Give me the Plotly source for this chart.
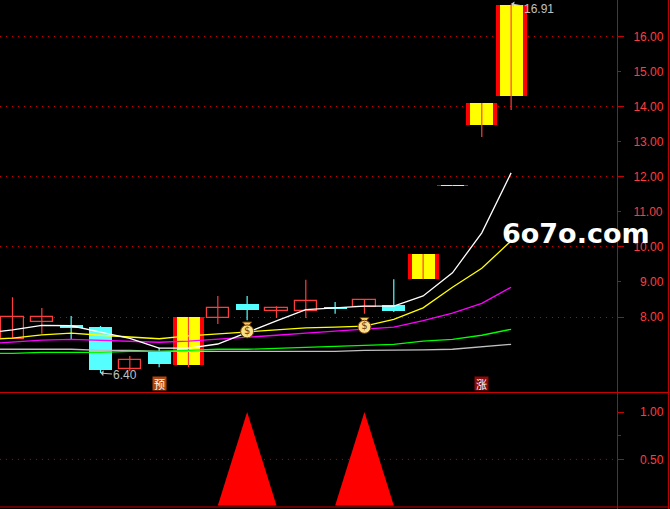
import plotly.graph_objects as go

# ---- data ----
candle_idx = list(range(18))
kinds = ["hollow","hollow","cyan","cyan","hollow","cyan","limit","hollow","cyan","hollow","hollow","cyan","hollow","cyan","limit","limit","limit","limit"]
body_top = [7.99,8.00,7.76,7.71,6.77,7.01,8.00,8.26,8.37,8.26,8.46,8.29,8.48,8.34,9.80,11.76,14.10,16.91]
body_bot = [7.38,7.87,7.69,6.49,6.52,6.66,6.63,7.97,8.20,8.17,8.17,8.23,8.29,8.17,9.08,11.745,13.48,14.30]
high_p = [8.56,8.26,8.03,7.74,6.89,7.12,8.00,8.60,8.60,8.31,9.06,8.43,8.51,9.08,9.80,11.76,14.10,16.91]
low_p = [7.38,7.52,7.37,6.40,6.46,6.57,6.57,7.80,7.91,7.97,7.97,8.09,8.09,8.14,9.08,11.745,13.13,13.90]

line_idx = [-1] + candle_idx
ma_white = [7.54,7.63,7.76,7.75,7.57,7.39,7.11,7.11,7.23,7.57,7.89,8.21,8.27,8.31,8.31,8.60,9.26,10.40,12.11]
ma_yellow = [7.34,7.40,7.49,7.54,7.48,7.44,7.38,7.46,7.52,7.58,7.62,7.69,7.71,7.74,7.93,8.26,8.85,9.39,10.17]
ma_magenta = [7.23,7.28,7.34,7.36,7.34,7.31,7.28,7.31,7.36,7.42,7.48,7.54,7.59,7.64,7.71,7.90,8.11,8.39,8.85]
ma_green = [6.96,6.96,6.99,6.99,6.99,7.02,7.02,7.05,7.08,7.08,7.11,7.14,7.16,7.19,7.22,7.31,7.36,7.48,7.65]
ma_gray = [7.08,7.08,7.08,7.08,7.05,7.05,7.02,7.02,7.02,7.02,7.02,7.02,7.02,7.05,7.05,7.06,7.08,7.14,7.22]

bag_idx = [8, 12]
bag_price = [7.59, 7.72]
bag_neck = [7.80, 7.93]

signal_a_x = [7, 8, 9]
signal_b_x = [11, 12, 13]
signal_vals = [0.015, 1.0, 0.015]

price_ticks = [8, 9, 10, 11, 12, 13, 14, 15, 16]
price_labels = ["\u20078.00", "\u20079.00", "10.00", "11.00", "12.00", "13.00", "14.00", "15.00", "16.00"]
price_grid = [8, 10, 12, 14, 16]
ind_ticks = [0.5, 1.0]
ind_labels = ["\u20070.50", "\u20071.00"]

# ---- styles ----
BG = "#000000"
AX = "#c80000"
LBL = "#ff3c3c"
UP = "#ff3c3c"
CY = "#55ffff"
SPLIT = 116.5 / 509
FONT = "Liberation Sans"

fig = go.Figure()

def pick(values, kind):
    return [v for v, k in zip(values, kinds) if k == kind]

def wicks(kind):
    xs, ys = [], []
    for i, k in enumerate(kinds):
        if k == kind:
            xs += [i, i, None]
            ys += [low_p[i], high_p[i], None]
    return xs, ys

for kind, col in (("hollow", UP), ("cyan", CY), ("limit", UP)):
    xs, ys = wicks(kind)
    fig.add_trace(go.Scatter(x=xs, y=ys, mode="lines", line=dict(color=col, width=1.2), xaxis="x", yaxis="y"))

def bars(kind, width, fill, line_col, line_w):
    xs = [i for i, k in zip(candle_idx, kinds) if k == kind]
    t, b = pick(body_top, kind), pick(body_bot, kind)
    fig.add_trace(go.Bar(x=xs, y=[a - c for a, c in zip(t, b)], base=b, width=width,
                         marker=dict(color=fill, line=dict(color=line_col, width=line_w)),
                         xaxis="x", yaxis="y"))

bars("hollow", 0.77, BG, UP, 1.2)
bars("cyan", 0.78, CY, CY, 0)
bars("limit", 1.056, "#ff0000", "#ff0000", 0)
bars("limit", 0.78, "#ffff00", "#ffff00", 0)

for vals, col in ((ma_gray, "#c0c0c0"), (ma_green, "#00ff00"), (ma_magenta, "#ff00ff"),
                  (ma_yellow, "#ffff00"), (ma_white, "#ffffff")):
    fig.add_trace(go.Scatter(x=line_idx, y=vals, mode="lines", line=dict(color=col, width=1.3),
                             xaxis="x", yaxis="y"))

fig.add_trace(go.Scatter(x=bag_idx, y=bag_neck, mode="markers",
                         marker=dict(symbol="triangle-down", size=8, color="#f2cf63", line=dict(color="#7a3a08", width=1)),
                         xaxis="x", yaxis="y"))
fig.add_trace(go.Scatter(x=bag_idx, y=bag_price, mode="markers+text", text=["$", "$"], textposition="middle center",
                         textfont=dict(family="DejaVu Sans", size=10, color="#7a3a08"),
                         marker=dict(symbol="circle", size=13, color="#f7e08a", line=dict(color="#7a3a08", width=1)),
                         xaxis="x", yaxis="y"))

for sx in (signal_a_x, signal_b_x):
    fig.add_trace(go.Scatter(x=sx, y=signal_vals, mode="lines", fill="toself", fillcolor="#ff0000",
                             line=dict(color="#ff0000", width=0), xaxis="x2", yaxis="y2"))

annots = [
    dict(x=3, y=6.40, xref="x", yref="y", text="6.40", showarrow=True, ax=25, ay=2, arrowcolor="#c0c0c0",
         arrowhead=1, arrowwidth=1, standoff=0, font=dict(family=FONT, size=12, color="#c0c0c0")),
    dict(x=17, y=16.93, xref="x", yref="y", text="16.91", showarrow=True, ax=28, ay=5, arrowcolor="#c8c8c8",
         arrowhead=1, arrowwidth=1, standoff=0, font=dict(family=FONT, size=12, color="#c0c0c0")),
    dict(x=5, y=6.09, xref="x", yref="y", text="预", showarrow=False, bgcolor="#b0450f", width=13, height=13, borderpad=0,
         font=dict(family="Noto Sans CJK SC", size=11, color="#ffffff")),
    dict(x=16, y=6.09, xref="x", yref="y", text="涨", showarrow=False, bgcolor="#8b0a0a", width=13, height=13, borderpad=0,
         font=dict(family="Noto Sans CJK SC", size=11, color="#ffffff")),
    dict(x=19.2, y=10.38, xref="x", yref="y", text="<b>6o7o.com</b>", showarrow=False,
         font=dict(family="DejaVu Sans", size=27, color="#ffffff")),
]

shapes = [
    dict(type="line", xref="paper", yref="paper", x0=0, x1=670 / 617.5, y0=SPLIT, y1=SPLIT, line=dict(color=AX, width=1)),
    dict(type="line", xref="paper", yref="paper", x0=0, x1=670 / 617.5, y0=2 / 509, y1=2 / 509, line=dict(color=AX, width=1)),
    dict(type="line", xref="paper", yref="paper", x0=669 / 617.5, x1=669 / 617.5, y0=0, y1=1, line=dict(color=AX, width=1)),
    dict(type="line", xref="x2", yref="y2", x0=-0.43, x1=20.61, y0=0.5, y1=0.5, layer="below",
         line=dict(color=AX, width=1, dash="1px,5px")),
]

fig.update_layout(
    width=670, height=509, autosize=False, showlegend=False,
    margin=dict(l=0, r=52.5, t=0, b=0, pad=0),
    paper_bgcolor=BG, plot_bgcolor=BG, barmode="overlay", bargap=0,
    annotations=annots, shapes=shapes,
    xaxis=dict(domain=[0, 1], range=[-0.426, 20.61], anchor="y", visible=False, fixedrange=True),
    xaxis2=dict(domain=[0, 1], range=[-0.426, 20.61], anchor="y2", visible=False, fixedrange=True),
    yaxis=dict(domain=[SPLIT, 1], range=[5.847, 17.04], side="right", anchor="x", showline=True, linecolor=AX, linewidth=1,
               tickmode="array", tickvals=price_ticks, ticktext=price_labels, ticks="outside", ticklen=3, tickcolor=AX,
               tickfont=dict(family=FONT, size=12, color=LBL), showgrid=False, zeroline=False, ticklabelstandoff=10,
               minor=dict(tickmode="array", tickvals=price_grid, ticks="outside", ticklen=6, tickcolor=AX, showgrid=True,
                          gridcolor=AX, griddash="1px,5px", gridwidth=1)),
    yaxis2=dict(domain=[0, SPLIT], range=[-0.023, 1.206], side="right", anchor="x2", showline=True, linecolor=AX, linewidth=1,
                tickmode="array", tickvals=ind_ticks, ticktext=ind_labels, ticks="outside", ticklen=6, tickcolor=AX,
                tickfont=dict(family=FONT, size=12, color=LBL), showgrid=False, zeroline=False, ticklabelstandoff=7,
                minor=dict(tickmode="array", tickvals=[0.75], ticks="outside", ticklen=3, tickcolor=AX, showgrid=False)),
)

fig.write_html("out.html", config=dict(displayModeBar=False),
               post_script="document.body.style.margin='0';document.body.style.background='#000';")
